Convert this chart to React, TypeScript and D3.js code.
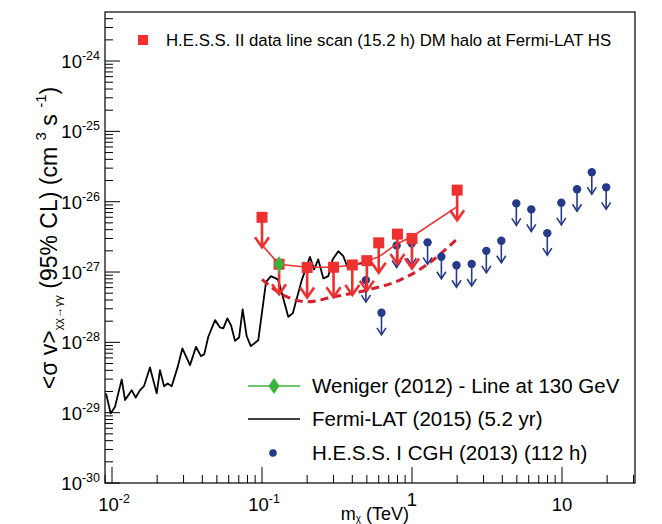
import React from 'react';
import * as d3 from 'd3';

// ---------- data ----------
const fermiMass = [0.00912, 0.0098, 0.01047, 0.01101, 0.01161, 0.01222, 0.01352, 0.01439, 0.01538, 0.01633, 0.01791, 0.01986, 0.02089, 0.02223, 0.0235, 0.025, 0.02742, 0.02944, 0.03311, 0.03631, 0.03917, 0.04121, 0.04385, 0.04864, 0.05248, 0.05521, 0.05875, 0.06209, 0.06607, 0.07031, 0.0743, 0.07907, 0.08414, 0.09441, 0.1064, 0.1148, 0.1274, 0.1303, 0.1496, 0.1603, 0.1841, 0.2089, 0.2223, 0.2371, 0.2564, 0.2767, 0.2958, 0.3228, 0.3483, 0.3707, 0.3963, 0.4498, 0.4864];
const fermiSigma = [1.88e-29, 9.75e-30, 1.21e-29, 1.88e-29, 2.96e-29, 1.51e-29, 2.09e-29, 1.64e-29, 2.09e-29, 2.38e-29, 4.4e-29, 1.88e-29, 4.03e-29, 2.38e-29, 2.6e-29, 2.38e-29, 4.48e-29, 8.18e-29, 4.74e-29, 8.63e-29, 6.37e-29, 6.79e-29, 1.2e-28, 2.07e-28, 1.63e-28, 1.58e-28, 2.19e-28, 1.76e-28, 1.05e-28, 1.17e-28, 2.94e-28, 1.22e-28, 8.83e-29, 1.07e-28, 7.26e-28, 8.75e-28, 7.85e-28, 6.89e-28, 2.31e-28, 2.58e-28, 7.67e-28, 1.64e-27, 1.09e-27, 1.51e-27, 8.11e-28, 8.75e-28, 1.51e-27, 1.98e-27, 1.68e-27, 1.19e-27, 1.28e-27, 1.32e-27, 1.35e-27];

const hess2Mass = [0.1, 0.13, 0.2, 0.3, 0.4, 0.5, 0.6, 0.8, 1.0, 2.0];
const hess2Sigma = [6.0e-27, 1.29e-27, 1.16e-27, 1.17e-27, 1.26e-27, 1.45e-27, 2.6e-27, 3.46e-27, 3.0e-27, 1.46e-26];

const hess2LineMass = [0.1, 0.13, 0.2, 0.3, 0.4, 0.5, 0.6, 0.8, 1.0, 2.0];
const hess2LineSigma = [2.42e-27, 1.29e-27, 1.17e-27, 1.17e-27, 1.26e-27, 1.43e-27, 1.64e-27, 2.55e-27, 3.17e-27, 8.5e-27];

const expectedMass = [0.1, 0.132, 0.2, 0.3, 0.5, 0.83, 1.25, 1.96];
const expectedSigma = [7.85e-28, 5.0e-28, 3.77e-28, 4.44e-28, 5.53e-28, 7.67e-28, 1.26e-27, 2.84e-27];

const hess1Mass = [0.493, 0.626, 0.79, 0.995, 1.27, 1.57, 1.98, 2.5, 3.13, 3.94, 4.96, 6.24, 7.98, 9.9, 12.6, 15.8, 19.7];
const hess1Sigma = [7.67e-28, 2.63e-28, 2.38e-27, 2.57e-27, 2.64e-27, 1.65e-27, 1.25e-27, 1.3e-27, 2.0e-27, 2.78e-27, 9.46e-27, 7.77e-27, 3.57e-27, 9.64e-27, 1.5e-26, 2.63e-26, 1.6e-26];

const wenigerMass = [0.13];
const wenigerSigma = [1.29e-27];

const yDecades = [-30, -29, -28, -27, -26, -25, -24];
const xMajor = [0.01, 0.1, 1, 10];
const xMajorLabels: [string, string][] = [['10', '-2'], ['10', '-1'], ['1', ''], ['10', '']];

const legendTop = 'H.E.S.S. II data line scan (15.2 h) DM halo at Fermi-LAT HS';
const legendWeniger = 'Weniger (2012) - Line at 130 GeV';
const legendFermi = 'Fermi-LAT (2015) (5.2 yr)';
const legendHess1 = 'H.E.S.S. I CGH (2013) (112 h)';

// ---------- layout ----------
const W = 662, H = 524;
const L = 105, R = 635, T = 12, B = 483;
const FONT = "'Liberation Sans', Arial, Helvetica, sans-serif";
const RED = '#ee3030';
const DRED = '#d4202c';
const BLUE = '#26398a';
const GREEN = '#3cb43c';

const x = d3.scaleLog().domain([0.00898, 30.67]).range([L, R]);
const y = d3.scaleLog().domain([1e-30, 4.98e-24]).range([B, T]);

export default function App() {
  const fermiLine = d3.line<number>().x((_, i) => x(fermiMass[i])).y((d) => y(d));
  const hessLine = d3.line<number>().x((_, i) => x(hess2LineMass[i])).y((d) => y(d));
  const expLine = d3.line<number>().x((_, i) => x(expectedMass[i])).y((d) => y(d)).curve(d3.curveMonotoneX);

  const yMinor: number[] = [];
  for (const d of yDecades) {
    for (let k = 2; k <= 9; k++) {
      const v = k * Math.pow(10, d);
      if (v <= y.domain()[1]) yMinor.push(v);
    }
  }
  const xMinor: number[] = [];
  for (const d of [-3, -2, -1, 0, 1]) {
    for (let k = 2; k <= 9; k++) {
      const v = k * Math.pow(10, d);
      if (v >= x.domain()[0] && v <= x.domain()[1]) xMinor.push(v);
    }
  }

  const redArrowLen = 30;
  const blueArrowLen = 22;

  return (
    <svg width={W} height={H} style={{ position: 'absolute', left: 0, top: 0, background: '#fff' }} fontFamily={FONT}>
      <defs>
        <clipPath id="frame"><rect x={L} y={T} width={R - L} height={B - T} /></clipPath>
      </defs>
      <rect x={0} y={0} width={W} height={H} fill="#fff" />

      {/* frame */}
      <rect x={L} y={T} width={R - L} height={B - T} fill="none" stroke="#000" strokeWidth={1.2} />

      {/* y ticks */}
      {yDecades.map((d) => (
        <line key={'ym' + d} x1={L} x2={L + 15} y1={y(Math.pow(10, d))} y2={y(Math.pow(10, d))} stroke="#000" strokeWidth={1} />
      ))}
      {yMinor.map((v, i) => (
        <line key={'yn' + i} x1={L} x2={L + 8} y1={y(v)} y2={y(v)} stroke="#000" strokeWidth={1} />
      ))}
      {yDecades.map((d) => (
        <text key={'yl' + d} x={100} y={y(Math.pow(10, d)) + 7} textAnchor="end" fontSize={18.5} fill="#000">
          <tspan>10</tspan>
          <tspan dy={-8} fontSize={12.5}>{String(d)}</tspan>
        </text>
      ))}

      {/* x ticks */}
      {xMajor.map((v) => (
        <line key={'xm' + v} x1={x(v)} x2={x(v)} y1={B} y2={B - 16} stroke="#000" strokeWidth={1} />
      ))}
      {xMinor.map((v, i) => (
        <line key={'xn' + i} x1={x(v)} x2={x(v)} y1={B} y2={B - 8} stroke="#000" strokeWidth={1} />
      ))}
      {xMajor.map((v, i) => (
        <text key={'xl' + v} x={x(v) + (xMajorLabels[i][1] ? 2 : 0)} y={xMajorLabels[i][0] === '1' ? 506 : 511} textAnchor="middle" fontSize={18.5} fill="#000">
          <tspan>{xMajorLabels[i][0]}</tspan>
          {xMajorLabels[i][1] ? <tspan dy={-8} fontSize={12.5}>{xMajorLabels[i][1]}</tspan> : null}
        </text>
      ))}

      {/* axis titles */}
      <text x={409} y={520} textAnchor="end" fontSize={18} fill="#000">
        <tspan>m</tspan>
        <tspan dy={2} fontSize={10}>χ</tspan>
        <tspan dy={-2}> (TeV)</tspan>
      </text>
      <text transform="translate(57,238) rotate(-90)" textAnchor="middle" fontSize={23} fill="#000">
        <tspan>{'<σ v>'}</tspan>
        <tspan dy={5} fontSize={11.5}>{'χχ→γγ'}</tspan>
        <tspan dy={-5}>{' (95% CL) (cm '}</tspan>
        <tspan dy={-11} fontSize={15}>3</tspan>
        <tspan dy={11}>{' s '}</tspan>
        <tspan dy={-11} fontSize={15}>-1</tspan>
        <tspan dy={11}>)</tspan>
      </text>

      <g clipPath="url(#frame)">
        {/* Fermi-LAT */}
        <path d={fermiLine(fermiSigma) || ''} fill="none" stroke="#000" strokeWidth={1.8} strokeLinejoin="round" />

        {/* expected (dashed) */}
        <path d={expLine(expectedSigma) || ''} fill="none" stroke={DRED} strokeWidth={3} strokeDasharray="8,5" />

        {/* H.E.S.S. I */}
        {hess1Mass.map((m, i) => {
          const px = x(m), py = y(hess1Sigma[i]);
          const tip = py + blueArrowLen;
          return (
            <g key={'h1' + i}>
              <line x1={px} x2={px} y1={py} y2={tip} stroke={BLUE} strokeWidth={1.6} />
              <path d={`M${px - 4.5},${tip - 7} L${px},${tip} L${px + 4.5},${tip - 7}`} fill="none" stroke={BLUE} strokeWidth={1.6} />
              <circle cx={px} cy={py} r={4.2} fill={BLUE} />
            </g>
          );
        })}

        {/* H.E.S.S. II line */}
        <path d={hessLine(hess2LineSigma) || ''} fill="none" stroke={RED} strokeWidth={1.6} />

        {/* H.E.S.S. II squares and arrows */}
        {hess2Mass.map((m, i) => {
          const px = x(m), py = y(hess2Sigma[i]);
          const tip = py + redArrowLen;
          return (
            <g key={'h2' + i}>
              <line x1={px} x2={px} y1={py} y2={tip} stroke={RED} strokeWidth={2.6} />
              <path d={`M${px - 7},${tip - 10} L${px},${tip} L${px + 7},${tip - 10}`} fill="none" stroke={RED} strokeWidth={2.6} />
              <rect x={px - 5.5} y={py - 5.5} width={11} height={11} fill={RED} />
            </g>
          );
        })}

        {/* Weniger */}
        {wenigerMass.map((m, i) => {
          const px = x(m), py = y(wenigerSigma[i]);
          return (
            <g key={'w' + i}>
              <line x1={px} x2={px} y1={py} y2={py + 9} stroke={GREEN} strokeWidth={2} />
              <path d={`M${px},${py - 8} L${px + 5.5},${py} L${px},${py + 8} L${px - 5.5},${py} Z`} fill={GREEN} />
            </g>
          );
        })}
      </g>

      {/* top legend */}
      <rect x={138} y={35} width={10} height={10} fill={RED} />
      <text x={166} y={46} fontSize={16.8} fill="#000">{legendTop}</text>

      {/* bottom legend */}
      <line x1={248} x2={300} y1={386} y2={386} stroke={GREEN} strokeWidth={1.6} />
      <path d="M274,378 L279.5,386 L274,394 L268.5,386 Z" fill={GREEN} />
      <text x={312} y={393} fontSize={20.5} fill="#000">{legendWeniger}</text>

      <line x1={248} x2={300} y1={419} y2={419} stroke="#000" strokeWidth={1.6} />
      <text x={312} y={426} fontSize={20.5} fill="#000">{legendFermi}</text>

      <circle cx={273} cy={453} r={3.8} fill={BLUE} />
      <text x={312} y={460} fontSize={20.5} fill="#000">{legendHess1}</text>
    </svg>
  );
}
